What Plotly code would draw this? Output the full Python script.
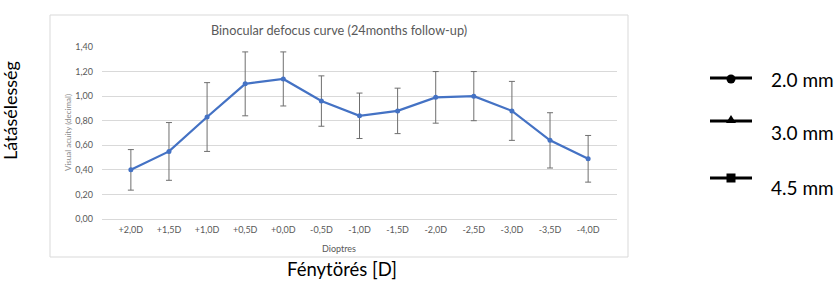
import plotly.graph_objects as go

W, H = 835, 281

categories = ["+2,0D", "+1,5D", "+1,0D", "+0,5D", "+0,0D", "-0,5D", "-1,0D",
              "-1,5D", "-2,0D", "-2,5D", "-3,0D", "-3,5D", "-4,0D"]
visual_acuity = [0.40, 0.55, 0.83, 1.10, 1.14, 0.96, 0.84, 0.88, 0.99, 1.00, 0.88, 0.64, 0.49]
sd = [0.165, 0.235, 0.28, 0.26, 0.22, 0.205, 0.185, 0.185, 0.21, 0.20, 0.24, 0.225, 0.19]
y_tick_vals = [0.0, 0.2, 0.4, 0.6, 0.8, 1.0, 1.2, 1.4]
y_tick_text = ["0,00", "0,20", "0,40", "0,60", "0,80", "1,00", "1,20", "1,40"]
legend_labels = ["2.0 mm", "3.0 mm", "4.5 mm"]

FONT = "Lato, Carlito, 'Open Sans', sans-serif"
GRAY = "#595959"
GRID = "#d9d9d9"


def px(x):
    return x / W


def py(y):
    return 1 - y / H


fig = go.Figure()
fig.add_trace(go.Scatter(
    x=categories, y=visual_acuity, mode="lines+markers",
    line=dict(color="#4472c4", width=2.25),
    marker=dict(color="#4472c4", size=5),
    error_y=dict(type="data", array=sd, visible=True, color="#6f6f6f",
                 thickness=1, width=3),
    showlegend=False,
))

fig.update_layout(
    width=W, height=H,
    margin=dict(l=0, r=0, t=0, b=0),
    paper_bgcolor="white", plot_bgcolor="white",
    font=dict(family=FONT, color=GRAY),
    showlegend=False,
    xaxis=dict(domain=[px(102), px(617)], type="category",
               showgrid=False, zeroline=False, showline=False,
               ticks="", tickfont=dict(size=9, color=GRAY),
               ticklabelstandoff=4,
               automargin=False, fixedrange=True),
    yaxis=dict(domain=[py(219), py(47)], range=[0, 1.4],
               tickvals=y_tick_vals, ticktext=y_tick_text,
               tickfont=dict(size=9, color=GRAY),
               showgrid=True, gridcolor=GRID, gridwidth=1,
               zeroline=True, zerolinecolor=GRID, zerolinewidth=1,
               showline=False, ticks="", ticklabelstandoff=8,
               automargin=False, fixedrange=True),
)

shapes = [
    # inner chart border
    dict(type="rect", xref="paper", yref="paper",
         x0=px(50), x1=px(628), y0=py(257), y1=py(15),
         line=dict(color=GRID, width=1), fillcolor="rgba(0,0,0,0)", layer="below"),
]


def ann(text, x, y, size, color, angle=0, xanchor="center"):
    return dict(text=text, x=px(x), y=py(y), xref="paper", yref="paper",
                xanchor=xanchor, yanchor="middle", showarrow=False,
                textangle=angle, font=dict(size=size, color=color, family=FONT))


annotations = [
    ann("Binocular defocus curve (24months follow-up)", 339, 30, 12.7, GRAY),
    ann("Dioptres", 339, 248, 9, GRAY),
    ann("Visual acuity (decimal)", 68, 133, 8, "#8c8c8c", angle=-90),
    ann("Látásélesség", 10, 111, 18, "black", angle=-90),
    ann("Fénytörés [D]", 342, 269, 18.5, "black"),
]

# legend glyphs (right side)
leg_line_y = [78, 121, 178]
leg_text_y = [80, 132, 187]
for i, lab in enumerate(legend_labels):
    ly = leg_line_y[i]
    shapes.append(dict(type="line", xref="paper", yref="paper",
                       x0=px(710), x1=px(752), y0=py(ly), y1=py(ly),
                       line=dict(color="black", width=3)))
    annotations.append(ann(lab, 769, leg_text_y[i], 19, "black", xanchor="left"))

# markers
cx = 731
shapes.append(dict(type="circle", xref="paper", yref="paper",
                   x0=px(cx - 4.5), x1=px(cx + 4.5), y0=py(79 + 4.5), y1=py(79 - 4.5),
                   fillcolor="black", line=dict(color="black", width=0)))
shapes.append(dict(type="path", xref="paper", yref="paper",
                   path=f"M {px(cx-5)},{py(123)} L {px(cx+5)},{py(123)} L {px(cx)},{py(115)} Z",
                   fillcolor="black", line=dict(color="black", width=0)))
shapes.append(dict(type="rect", xref="paper", yref="paper",
                   x0=px(cx - 4.5), x1=px(cx + 4.5), y0=py(178 + 4.5), y1=py(178 - 4.5),
                   fillcolor="black", line=dict(color="black", width=0)))

fig.update_layout(shapes=shapes, annotations=annotations)
fig.write_html("out.html",
               config={"displayModeBar": False},
               post_script="document.body.style.margin='0';"
                           "document.body.style.overflow='hidden';")
